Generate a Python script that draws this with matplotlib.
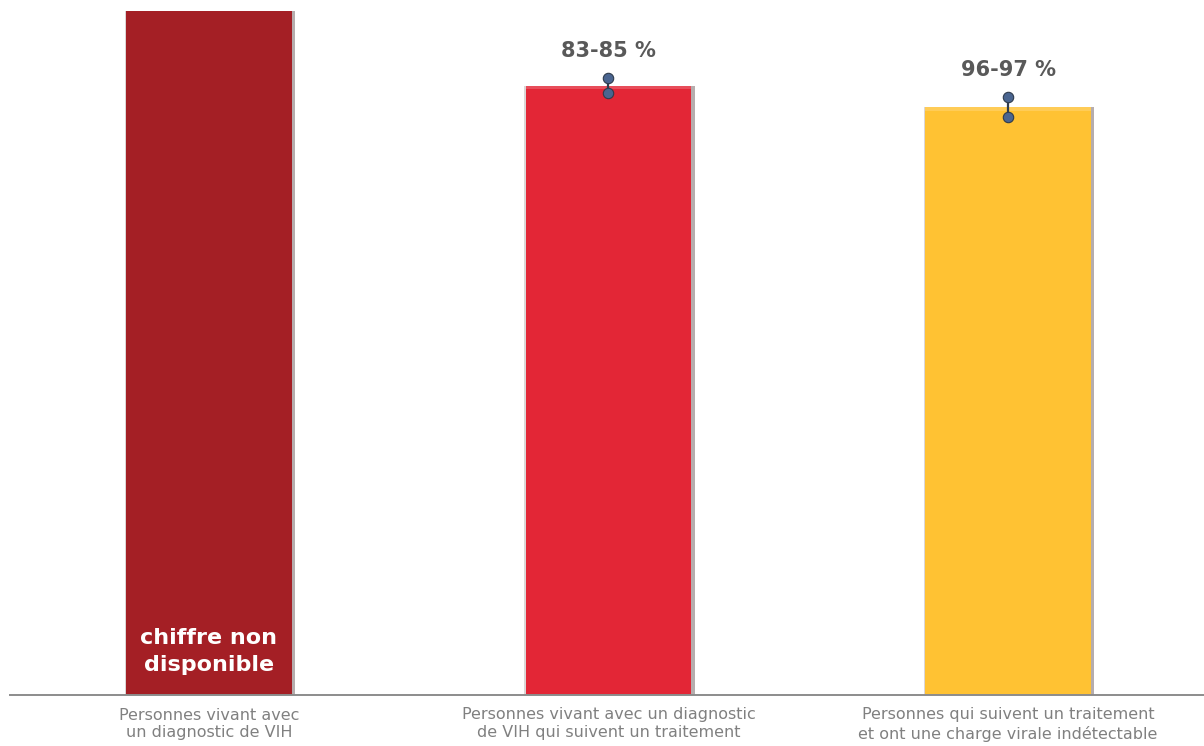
import matplotlib
matplotlib.use("Agg")
import matplotlib.pyplot as plt
from matplotlib.patches import Rectangle

# Cascade steps
categories = [
    "Personnes vivant avec\nun diagnostic de VIH",
    "Personnes vivant avec un diagnostic\nde VIH qui suivent un traitement",
    "Personnes qui suivent un traitement\net ont une charge virale indétectable",
]
# Percentage ranges for each step (relative to the previous step)
range_low = [None, 83, 96]
range_high = [None, 85, 97]
value_labels = ["chiffre non\ndisponible", "83-85 %", "96-97 %"]
bar_colors = ["#A41F25", "#E32636", "#FFC233"]

# Cumulative values: first step taken as 100 %, later steps chained
cum_low, cum_high, cum_mid = [100.0], [100.0], [100.0]
for lo, hi in zip(range_low[1:], range_high[1:]):
    cum_low.append(cum_low[-1] * lo / 100)
    cum_high.append(cum_high[-1] * hi / 100)
    cum_mid.append((cum_low[-1] + cum_high[-1]) / 2)

fig = plt.figure(figsize=(12.04, 7.46), dpi=100)
ax = fig.add_axes([10 / 1204, 51 / 746, 1 - 10 / 1204, 684 / 746])
ax.set_xlim(-0.4975, 2.49)
ax.set_ylim(0, 94.3)

x = list(range(len(categories)))
width = 0.415

# soft shadow around each bar, heavier on the right
ax.bar([xi + 0.008 for xi in x], cum_mid, width=width, color="#7a6a6a",
       alpha=0.55, zorder=1)
ax.bar([xi - 0.003 for xi in x], cum_mid, width=width, color="#9a8a8a",
       alpha=0.35, zorder=1)
bars = ax.bar(x, cum_mid, width=width, color=bar_colors, zorder=2)

# subtle highlight along bar tops
for b in bars[1:]:
    ax.add_patch(Rectangle((b.get_x(), b.get_height() - 0.5), b.get_width(), 0.5,
                           color="white", alpha=0.18, zorder=3, lw=0))

# ranges shown as dumbbells at bar tops
for i in range(1, len(categories)):
    ax.plot([x[i], x[i]], [cum_low[i], cum_high[i]], color="#2f3b4c", lw=1.6, zorder=4)
    ax.plot([x[i], x[i]], [cum_low[i], cum_high[i]], "o", color="#4a6590",
            markeredgecolor="#2f3b4c", markeredgewidth=0.8, markersize=7.5, zorder=5)
    ax.text(x[i], cum_high[i] + 2.4, value_labels[i], ha="center", va="bottom",
            fontsize=15, fontweight="bold", color="#595959", family="DejaVu Sans")

ax.text(x[0], 6.0, value_labels[0], ha="center", va="center", fontsize=16,
        fontweight="bold", color="white", family="DejaVu Sans", linespacing=1.4)

ax.set_xticks(x)
ax.set_xticklabels(categories, fontsize=11.5, color="#808080", family="DejaVu Sans",
                   fontweight="normal", linespacing=1.25)
ax.tick_params(axis="x", length=0, pad=9)
ax.set_yticks([])
for side in ["top", "right", "left"]:
    ax.spines[side].set_visible(False)
ax.spines["bottom"].set_color("#8c8c8c")
ax.spines["bottom"].set_linewidth(1.4)
ax.spines["bottom"].set_zorder(6)

fig.savefig("out.png", dpi=100)
